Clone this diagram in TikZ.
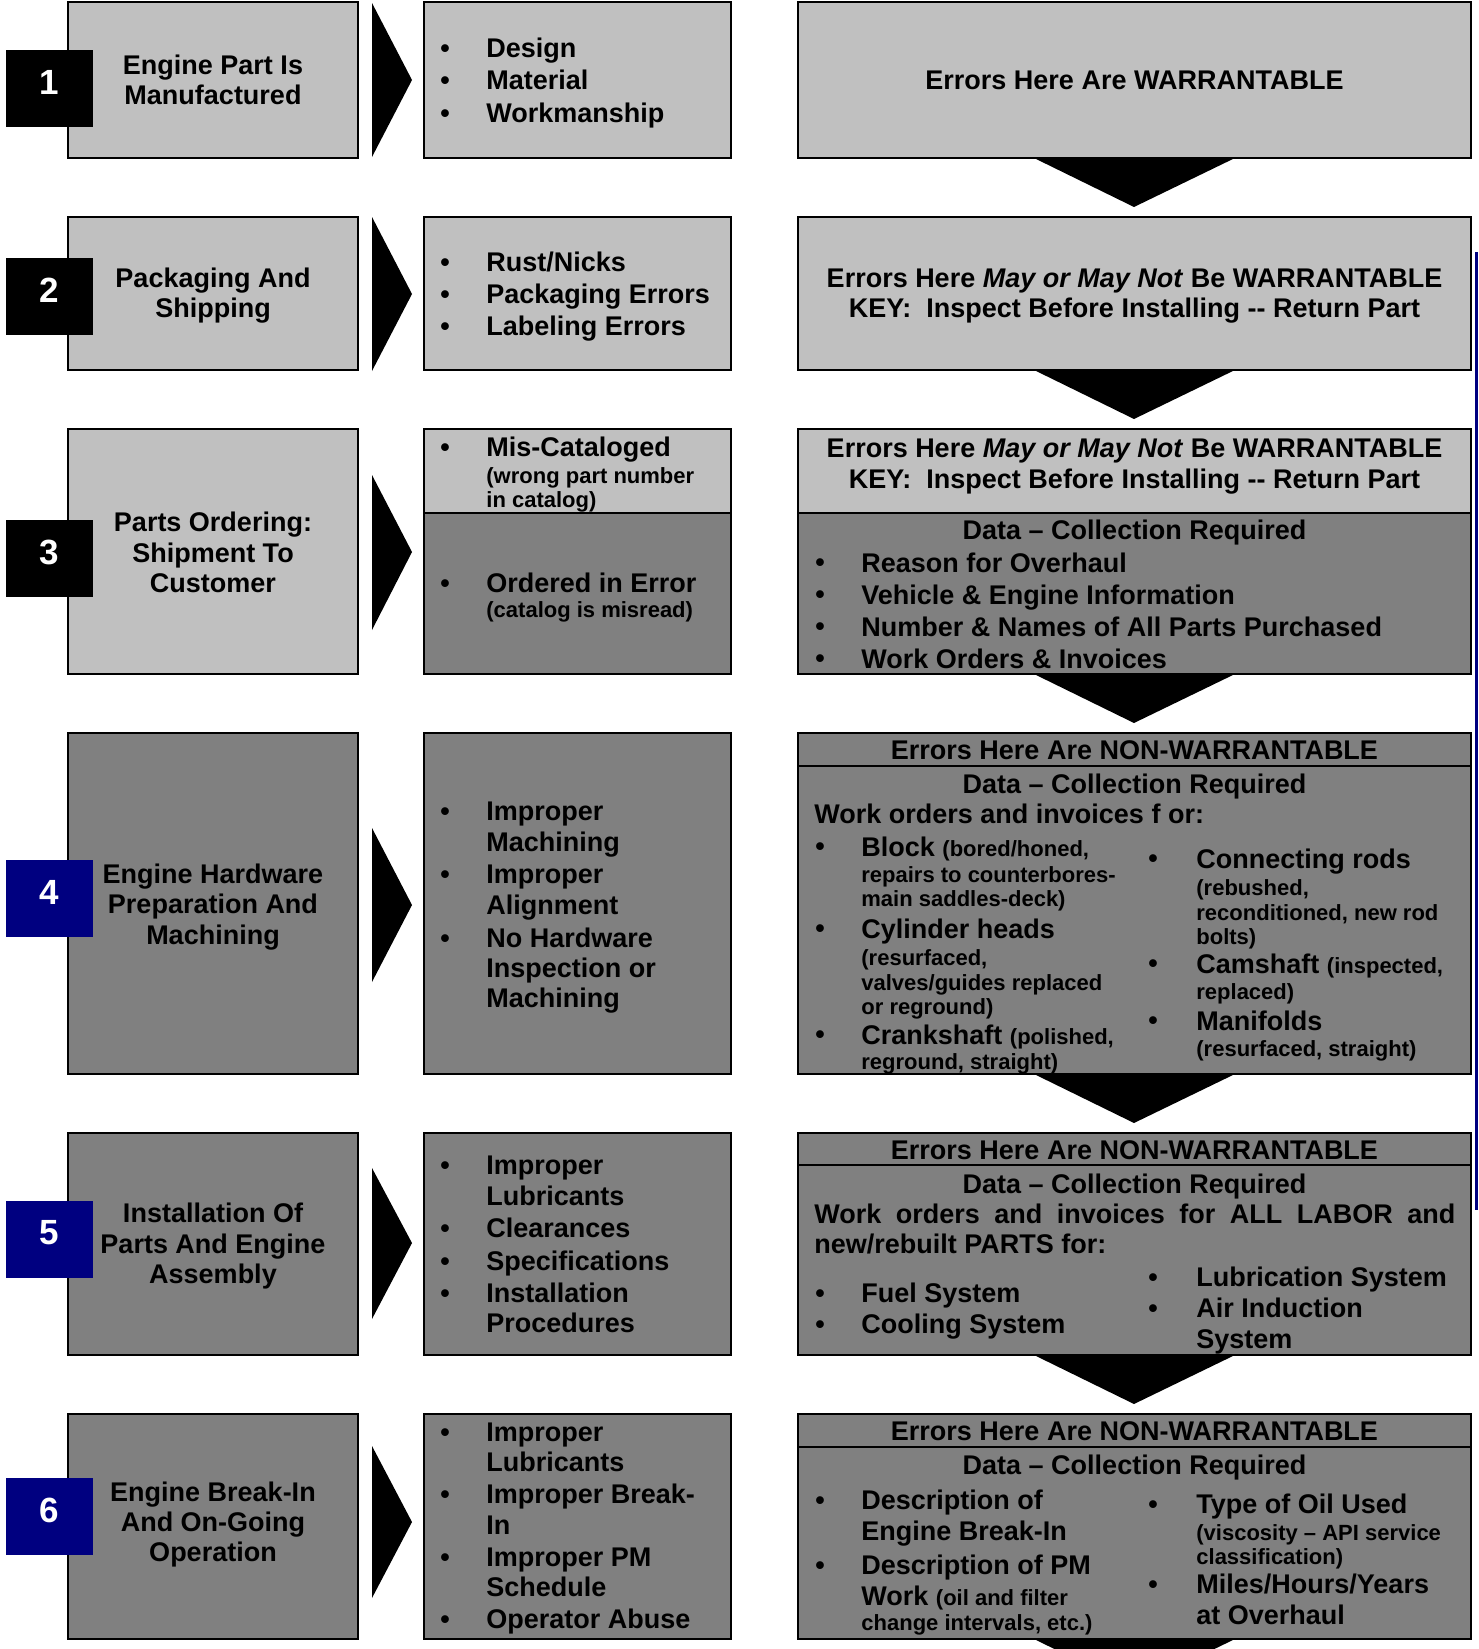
\documentclass[tikz,border=0pt]{standalone}
\usepackage{fontspec}
\setmainfont{Liberation Sans}
\definecolor{lgray}{RGB}{192,192,192}
\definecolor{dgray}{RGB}{128,128,128}
\definecolor{navyblue}{RGB}{0,0,128}
\begin{document}
\begin{tikzpicture}[x=0.5pt,y=-0.5pt,
  lbox/.style={draw=black,line width=1pt,fill=lgray},
  dbox/.style={draw=black,line width=1pt,fill=dgray},
  sep/.style={draw=black,line width=1pt},
  numsq/.style={inner sep=0pt,minimum width=43.5pt,minimum height=38.5pt},
  digit/.style={inner sep=0pt,text=white,font=\fontsize{17.5}{20}\selectfont\bfseries},
  t/.style={inner sep=0pt,anchor=base west,font=\fontsize{13.5}{15}\selectfont\bfseries},
  tc/.style={inner sep=0pt,anchor=base,font=\fontsize{13.5}{15}\selectfont\bfseries},
  s/.style={inner sep=0pt,anchor=base west,font=\fontsize{11}{13}\selectfont\bfseries},
  bul/.style={inner sep=0pt,anchor=base,font=\fontsize{13.5}{15}\selectfont\bfseries},
  arr/.style={fill=black}]
\clip (0,0) rectangle (1478,1649);
\fill[white] (0,0) rectangle (1478,1649);

% ---------- boxes ----------
% row 1
\draw[lbox] (68,2) rectangle (358,158);
\draw[lbox] (424,2) rectangle (731,158);
\draw[lbox] (798,2) rectangle (1471,158);
% row 2
\draw[lbox] (68,217) rectangle (358,370);
\draw[lbox] (424,217) rectangle (731,370);
\draw[lbox] (798,217) rectangle (1471,370);
% row 3
\draw[lbox] (68,429) rectangle (358,674);
\draw[dbox] (424,429) rectangle (731,674);
\draw[lbox] (424,429) rectangle (731,513);
\draw[dbox] (798,429) rectangle (1471,674);
\draw[lbox] (798,429) rectangle (1471,513);
% row 4
\draw[dbox] (68,733) rectangle (358,1074);
\draw[dbox] (424,733) rectangle (731,1074);
\draw[dbox] (798,733) rectangle (1471,1074);
\draw[sep] (798,766) -- (1471,766);
% row 5
\draw[dbox] (68,1133) rectangle (358,1355);
\draw[dbox] (424,1133) rectangle (731,1355);
\draw[dbox] (798,1133) rectangle (1471,1355);
\draw[sep] (798,1165) -- (1471,1165);
% row 6
\draw[dbox] (68,1414) rectangle (358,1639);
\draw[dbox] (424,1414) rectangle (731,1639);
\draw[dbox] (798,1414) rectangle (1471,1639);
\draw[sep] (798,1447) -- (1471,1447);

% ---------- right-pointing arrows ----------
\fill[arr] (372,3) -- (412,80) -- (372,157) -- cycle;
\fill[arr] (372,217) -- (412,294) -- (372,371) -- cycle;
\fill[arr] (372,475) -- (412,552) -- (372,630) -- cycle;
\fill[arr] (372,828) -- (412,905) -- (372,982) -- cycle;
\fill[arr] (372,1168) -- (412,1243) -- (372,1319) -- cycle;
\fill[arr] (372,1446) -- (412,1522) -- (372,1598) -- cycle;

% ---------- down arrows ----------
\foreach \yy in {158,370,674,1074,1355,1639}
  \fill[arr] (1034,\yy) -- (1235,\yy) -- (1134,\yy+49) -- cycle;

% ---------- blue line ----------
\draw[navyblue,line width=1.5pt] (1476,252) -- (1476,1210);

% ---------- number squares ----------
\node[numsq,fill=black] (n1) at (49.5,88.5) {};
\node[numsq,fill=black] (n2) at (49.5,296.5) {};
\node[numsq,fill=black] (n3) at (49.5,558.5) {};
\node[numsq,fill=navyblue] (n4) at (49.5,898.5) {};
\node[numsq,fill=navyblue] (n5) at (49.5,1239.5) {};
\node[numsq,fill=navyblue] (n6) at (49.5,1516) {};
\node[digit] (d1) at (49.5,82) {1};
\node[digit] (d2) at (49.5,290) {2};
\node[digit] (d3) at (49.5,552) {3};
\node[digit] (d4) at (49.5,892) {4};
\node[digit] (d5) at (49.5,1233) {5};
\node[digit] (d6) at (49.5,1510) {6};

% ---------- column A texts ----------
\node[tc] (a1a) at (213,74) {Engine Part Is};
\node[tc] (a1b) at (213,104) {Manufactured};
\node[tc] (a2a) at (213,287) {Packaging And};
\node[tc] (a2b) at (213,317) {Shipping};
\node[tc] (a3a) at (213,531) {Parts Ordering:};
\node[tc] (a3b) at (213,562) {Shipment To};
\node[tc] (a3c) at (213,592) {Customer};
\node[tc] (a4a) at (213,883) {Engine Hardware};
\node[tc] (a4b) at (213,913) {Preparation And};
\node[tc] (a4c) at (213,944) {Machining};
\node[tc] (a5a) at (213,1222) {Installation Of};
\node[tc] (a5b) at (213,1253) {Parts And Engine};
\node[tc] (a5c) at (213,1283) {Assembly};
\node[tc] (a6a) at (213,1501) {Engine Break-In};
\node[tc] (a6b) at (213,1531) {And On-Going};
\node[tc] (a6c) at (213,1561) {Operation};

% ---------- column B bullets ----------
\foreach \yy [count=\i] in {57,89,122,271,303,335,456,592,820,883,947,1174,1237,1270,1302,1441,1503,1566,1628}
  \node[bul,name=bb\i] at (445,\yy) {•};

% ---------- column B texts ----------
\node[t] (b1a) at (486,57) {Design};
\node[t] (b1b) at (486,89) {Material};
\node[t] (b1c) at (486,122) {Workmanship};
\node[t] (b2a) at (486,271) {Rust/Nicks};
\node[t] (b2b) at (486,303) {Packaging Errors};
\node[t] (b2c) at (486,335) {Labeling Errors};
\node[t] (b3a) at (486,456) {Mis-Cataloged};
\node[s] (b3b) at (486,483) {(wrong part number};
\node[s] (b3c) at (486,507) {in catalog)};
\node[t] (b3d) at (486,592) {Ordered in Error};
\node[s] (b3e) at (486,617) {(catalog is misread)};
\node[t] (b4a) at (486,820) {Improper};
\node[t] (b4b) at (486,851) {Machining};
\node[t] (b4c) at (486,883) {Improper};
\node[t] (b4d) at (486,914) {Alignment};
\node[t] (b4e) at (486,947) {No Hardware};
\node[t] (b4f) at (486,977) {Inspection or};
\node[t] (b4g) at (486,1007) {Machining};
\node[t] (b5a) at (486,1174) {Improper};
\node[t] (b5b) at (486,1205) {Lubricants};
\node[t] (b5c) at (486,1237) {Clearances};
\node[t] (b5d) at (486,1270) {Specifications};
\node[t] (b5e) at (486,1302) {Installation};
\node[t] (b5f) at (486,1332) {Procedures};
\node[t] (b6a) at (486,1441) {Improper};
\node[t] (b6b) at (486,1471) {Lubricants};
\node[t] (b6c) at (486,1503) {Improper Break-};
\node[t] (b6d) at (486,1534) {In};
\node[t] (b6e) at (486,1566) {Improper PM};
\node[t] (b6f) at (486,1596) {Schedule};
\node[t] (b6g) at (486,1628) {Operator Abuse};

% ---------- column C bullets ----------
\foreach \yy [count=\i] in {571,603,635,667,855,937,1043,1302,1333,1509,1574}
  \node[bul,name=cl\i] at (820,\yy) {•};
\foreach \yy [count=\i] in {867,972,1029,1286,1317,1513,1593}
  \node[bul,name=cr\i] at (1153,\yy) {•};

% ---------- column C texts ----------
\node[tc] (c1) at (1134.5,89) {Errors Here Are WARRANTABLE};
\node[tc] (c2a) at (1134.5,287) {Errors Here \textit{May or May Not} Be WARRANTABLE};
\node[tc] (c2b) at (1134.5,317) {KEY:\ \ Inspect Before Installing -{}- Return Part};
\node[tc] (c3a) at (1134.5,457) {Errors Here \textit{May or May Not} Be WARRANTABLE};
\node[tc] (c3b) at (1134.5,488) {KEY:\ \ Inspect Before Installing -{}- Return Part};
\node[tc] (c3c) at (1134.5,539) {Data – Collection Required};
\node[t] (c3d) at (861,572) {Reason for Overhaul};
\node[t] (c3e) at (861,604) {Vehicle \& Engine Information};
\node[t] (c3f) at (861,636) {Number \& Names of All Parts Purchased};
\node[t] (c3g) at (861,668) {Work Orders \& Invoices};

\node[tc] (c4a) at (1134.5,759) {Errors Here Are NON-WARRANTABLE};
\node[tc] (c4b) at (1134.5,793) {Data – Collection Required};
\node[t] (c4c) at (814,823) {Work orders and invoices f or:};
\node[t] (c4d) at (861,856) {Block {\fontsize{11}{13}\selectfont (bored/honed,}};
\node[s] (c4e) at (861,882) {repairs to counterbores-};
\node[s] (c4f) at (861,906) {main saddles-deck)};
\node[t] (c4g) at (861,938) {Cylinder heads};
\node[s] (c4h) at (861,965) {(resurfaced,};
\node[s] (c4i) at (861,990) {valves/guides replaced};
\node[s] (c4j) at (861,1014) {or reground)};
\node[t] (c4k) at (861,1044) {Crankshaft {\fontsize{11}{13}\selectfont (polished,}};
\node[s] (c4l) at (861,1069) {reground, straight)};
\node[t] (c4m) at (1196,868) {Connecting rods};
\node[s] (c4n) at (1196,895) {(rebushed,};
\node[s] (c4o) at (1196,920) {reconditioned, new rod};
\node[s] (c4p) at (1196,944) {bolts)};
\node[t] (c4q) at (1196,973) {Camshaft {\fontsize{11}{13}\selectfont (inspected,}};
\node[s] (c4r) at (1196,999) {replaced)};
\node[t] (c4s) at (1196,1030) {Manifolds};
\node[s] (c4t) at (1196,1056) {(resurfaced, straight)};

\node[tc] (c5a) at (1134.5,1159) {Errors Here Are NON-WARRANTABLE};
\node[tc] (c5b) at (1134.5,1193) {Data – Collection Required};
\node[t] (c5c) at (814,1223) {\makebox[320.5pt][s]{Work orders and invoices for ALL LABOR and}};
\node[t] (c5d) at (814,1253) {new/rebuilt PARTS for:};
\node[t] (c5e) at (861,1302) {Fuel System};
\node[t] (c5f) at (861,1333) {Cooling System};
\node[t] (c5g) at (1196,1286) {Lubrication System};
\node[t] (c5h) at (1196,1317) {Air Induction};
\node[t] (c5i) at (1196,1348) {System};

\node[tc] (c6a) at (1134.5,1440) {Errors Here Are NON-WARRANTABLE};
\node[tc] (c6b) at (1134.5,1474) {Data – Collection Required};
\node[t] (c6c) at (861,1509) {Description of};
\node[t] (c6d) at (861,1540) {Engine Break-In};
\node[t] (c6e) at (861,1574) {Description of PM};
\node[t] (c6f) at (861,1605) {Work {\fontsize{11}{13}\selectfont (oil and filter}};
\node[s] (c6g) at (861,1630) {change intervals, etc.)};
\node[t] (c6h) at (1196,1513) {Type of Oil Used};
\node[s] (c6i) at (1196,1540) {(viscosity – API service};
\node[s] (c6j) at (1196,1564) {classification)};
\node[t] (c6k) at (1196,1593) {Miles/Hours/Years};
\node[t] (c6l) at (1196,1624) {at Overhaul};
\end{tikzpicture}
\end{document}
